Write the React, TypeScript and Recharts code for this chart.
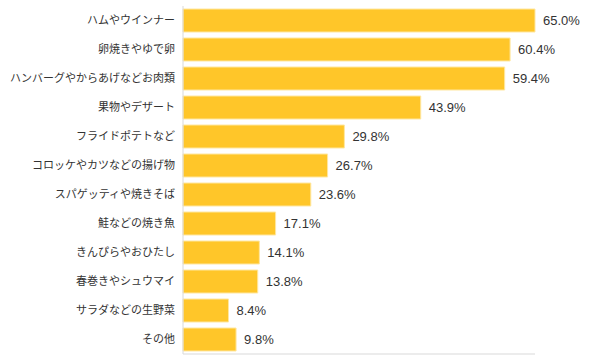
import React from 'react';
import { BarChart, Bar, XAxis, YAxis, LabelList } from 'recharts';

const categories = [
  'ハムやウインナー',
  '卵焼きやゆで卵',
  'ハンバーグやからあげなどお肉類',
  '果物やデザート',
  'フライドポテトなど',
  'コロッケやカツなどの揚げ物',
  'スパゲッティや焼きそば',
  '鮭などの焼き魚',
  'きんぴらやおひたし',
  '春巻きやシュウマイ',
  'サラダなどの生野菜',
  'その他',
];

const percentages = [65.0, 60.4, 59.4, 43.9, 29.8, 26.7, 23.6, 17.1, 14.1, 13.8, 8.4, 9.8];

const data = categories.map((name, i) => ({ name, value: percentages[i] }));

const font = '"Liberation Sans", Arial, "Noto Sans CJK JP", sans-serif';

const App: React.FC = () => {
  return (
    <div style={{ position: 'absolute', left: 0, top: 0, width: 600, height: 363, background: '#fff' }}>
      <BarChart
        width={600}
        height={363}
        data={data}
        layout="vertical"
        margin={{ top: 6, right: 65, bottom: 8, left: 0 }}
        barCategoryGap={3}
      >
        <XAxis
          type="number"
          domain={[0, 65]}
          tick={false}
          tickLine={false}
          height={1}
          axisLine={{ stroke: '#d9d9d9' }}
        />
        <YAxis
          type="category"
          dataKey="name"
          width={183}
          tickLine={false}
          axisLine={{ stroke: '#d9d9d9' }}
          interval={0}
          tick={{ fill: '#333', fontSize: 11, fontFamily: font }}
        />
        <Bar dataKey="value" fill="#FFC629" stroke="#FFE7A0" strokeWidth={1} isAnimationActive={false}>
          <LabelList
            dataKey="value"
            position="right"
            offset={8}
            formatter={(v: any) => `${Number(v).toFixed(1)}%`}
            style={{ fill: '#333', fontSize: 13, fontFamily: font }}
          />
        </Bar>
      </BarChart>
    </div>
  );
};

export default App;
